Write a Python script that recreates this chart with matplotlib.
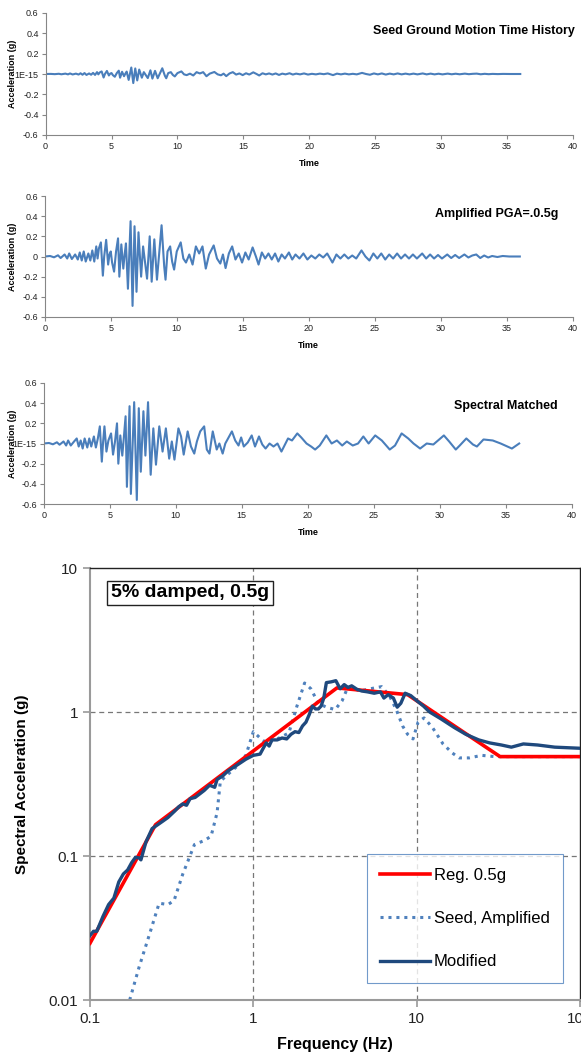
import numpy as np
import matplotlib.pyplot as plt
import matplotlib as mpl

mpl.rcParams['font.family'] = ['Liberation Sans', 'DejaVu Sans']

# ---- time histories (time in s, acceleration in g) ----
amp_t = [0.0, 0.4, 0.7, 1.0, 1.2, 1.5, 1.7, 1.85, 2.05, 2.3, 2.5, 2.65, 2.8, 2.95, 3.1,
         3.3, 3.45, 3.6, 3.75, 3.9, 4.0, 4.1, 4.25, 4.4, 4.5, 4.65, 4.8, 4.9, 5.0, 5.1,
         5.25, 5.4, 5.55, 5.65, 5.8, 5.95, 6.05, 6.15, 6.3, 6.5, 6.65, 6.8, 6.95, 7.1,
         7.3, 7.45, 7.75, 7.95, 8.1, 8.3, 8.5, 8.65, 8.85, 9.05, 9.15, 9.3, 9.5, 9.65,
         9.8, 10.0, 10.3, 10.5, 10.7, 10.95, 11.2, 11.45, 11.7, 11.95, 12.2, 12.45, 12.8,
         13.05, 13.3, 13.5, 13.7, 13.95, 14.2, 14.45, 14.7, 14.95, 15.2, 15.45, 15.75,
         16.0, 16.2, 16.45, 16.7, 16.95, 17.2, 17.45, 17.7, 17.95, 18.2, 18.5, 18.75,
         19.0, 19.3, 19.6, 19.9, 20.2, 20.5, 20.8, 21.1, 21.4, 21.8, 22.1, 22.4, 22.7,
         23.0, 23.3, 23.6, 24.0, 24.3, 24.6, 24.9, 25.2, 25.5, 25.8, 26.1, 26.4, 26.7,
         27.0, 27.3, 27.6, 27.9, 28.2, 28.6, 28.9, 29.2, 29.5, 29.8, 30.1, 30.5, 30.8,
         31.1, 31.4, 31.8, 32.1, 32.4, 32.7, 33.0, 33.3, 33.6, 33.9, 34.3, 34.7, 35.2, 36.0]
amp_a = [0.0, 0.005, -0.008, 0.012, -0.015, 0.02, -0.02, 0.03, -0.025, 0.02, -0.03, 0.04,
         -0.04, 0.05, -0.05, 0.03, -0.04, 0.06, -0.05, 0.1, -0.02, 0.08, 0.14, -0.19, 0.0,
         0.165, -0.08, 0.02, 0.05, -0.06, -0.15, 0.05, 0.18, -0.2, 0.12, -0.12, 0.02, 0.13,
         -0.32, 0.35, -0.49, 0.3, -0.35, 0.24, -0.2, 0.1, -0.22, 0.2, -0.25, 0.17, -0.23,
         0.0, 0.31, -0.1, -0.23, 0.05, 0.1, -0.05, -0.13, 0.05, 0.14, -0.02, -0.06, 0.02,
         -0.08, 0.1, 0.03, 0.1, -0.12, 0.02, 0.11, -0.02, -0.07, 0.02, -0.115, 0.03, 0.1,
         -0.03, 0.03, -0.06, 0.04, -0.03, 0.09, 0.0, -0.08, 0.04, -0.02, 0.03, -0.03, 0.03,
         -0.05, 0.02, -0.02, 0.04, -0.03, 0.02, -0.02, 0.03, -0.03, 0.01, -0.02, 0.02,
         -0.01, 0.03, -0.06, 0.02, -0.02, 0.02, -0.02, 0.01, -0.02, 0.06, 0.0, -0.04, 0.03,
         -0.02, 0.03, -0.03, 0.02, -0.02, 0.03, -0.02, 0.02, -0.02, 0.02, -0.02, 0.03,
         -0.02, 0.02, -0.02, 0.015, -0.02, 0.02, -0.015, 0.015, -0.015, 0.02, -0.01, 0.01,
         0.02, -0.015, 0.01, -0.01, 0.005, -0.005, 0.005, 0.0, 0.0]
amp_factor = 5.5  # seed record scaled up to PGA = 0.5g

match_t = [0.0, 0.4, 0.7, 1.0, 1.2, 1.5, 1.7, 1.85, 2.05, 2.3, 2.5, 2.65, 2.8, 2.95, 3.1,
           3.3, 3.45, 3.6, 3.8, 3.95, 4.1, 4.25, 4.4, 4.5, 4.6, 4.75, 4.9, 5.1, 5.25, 5.4,
           5.55, 5.65, 5.8, 5.95, 6.05, 6.2, 6.3, 6.5, 6.6, 6.85, 7.05, 7.2, 7.35, 7.55,
           7.7, 7.9, 8.1, 8.3, 8.5, 8.75, 9.0, 9.25, 9.5, 9.7, 9.9, 10.2, 10.4, 10.6, 10.9,
           11.15, 11.4, 11.6, 11.85, 12.15, 12.35, 12.55, 12.8, 13.1, 13.3, 13.55, 13.75,
           14.25, 14.5, 14.75, 14.95, 15.15, 15.45, 15.75, 16.0, 16.3, 16.55, 16.8, 17.1,
           17.4, 17.7, 18.0, 18.5, 18.8, 19.2, 19.5, 19.9, 20.25, 20.55, 20.9, 21.4, 21.8,
           22.2, 22.6, 22.95, 23.4, 23.8, 24.2, 24.6, 25.1, 25.6, 26.2, 26.6, 27.1, 27.6,
           28.0, 28.5, 29.0, 29.5, 30.3, 30.7, 31.2, 31.5, 32.0, 32.5, 32.8, 33.3, 34.0,
           34.6, 35.45, 36.0]
match_a = [0.0, 0.005, -0.008, 0.012, -0.012, 0.02, -0.02, 0.03, -0.02, 0.02, 0.05, -0.03,
           0.03, -0.05, 0.05, -0.04, 0.05, -0.03, 0.07, -0.04, 0.05, 0.17, -0.18, 0.02, 0.17,
           -0.08, 0.03, 0.1, -0.11, 0.02, 0.2, -0.2, 0.08, -0.12, 0.03, 0.27, -0.43, 0.37,
           -0.5, 0.41, -0.56, 0.35, -0.28, 0.32, -0.12, 0.41, -0.31, 0.15, -0.21, 0.17,
           -0.08, 0.15, -0.15, 0.02, -0.16, 0.15, 0.07, -0.11, 0.12, -0.03, -0.1, 0.02, 0.12,
           0.17, -0.06, -0.1, 0.12, -0.06, 0.0, -0.1, 0.0, 0.12, 0.03, -0.02, 0.06, -0.03,
           0.01, 0.08, -0.03, 0.07, -0.01, -0.05, 0.0, -0.03, 0.0, -0.08, 0.05, 0.03, 0.1,
           0.06, 0.0, -0.03, -0.06, -0.02, 0.08, 0.0, 0.03, -0.02, 0.02, -0.02, 0.0, 0.07,
           0.0, 0.08, 0.03, -0.06, -0.02, 0.1, 0.05, 0.0, -0.05, 0.0, -0.01, 0.08, 0.02,
           -0.06, -0.02, 0.05, -0.01, -0.03, 0.04, 0.03, 0.0, -0.05, 0.0]

th_yticks = [-0.6, -0.4, -0.2, 0.0, 0.2, 0.4, 0.6]
th_labels_e = ['-0.6', '-0.4', '-0.2', '1E-15', '0.2', '0.4', '0.6']
th_labels_0 = ['-0.6', '-0.4', '-0.2', '0', '0.2', '0.4', '0.6']
th_xticks = [0, 5, 10, 15, 20, 25, 30, 35, 40]

# ---- response spectra (Hz, g) ----
req_f = [0.1, 0.252, 3.25, 8.8, 32.4, 100.0]
req_sa = [0.0248, 0.165, 1.47, 1.32, 0.49, 0.49]

seed_f = [0.175, 0.20, 0.23, 0.265, 0.30, 0.327, 0.37, 0.436, 0.50, 0.551, 0.60, 0.628,
          0.70, 0.795, 0.90, 1.0, 1.1, 1.2, 1.4, 1.65, 1.85, 2.06, 2.25, 2.5, 2.8, 3.17,
          3.5, 3.8, 4.5, 5.2, 6.1, 6.8, 7.5, 8.2, 8.8, 9.5, 10.2, 11.1, 12.5, 14.5, 16.5,
          18.2, 21.0, 25.0, 30.0, 40.0, 60.0, 100.0]
seed_sa = [0.01, 0.017, 0.028, 0.047, 0.046, 0.049, 0.075, 0.12, 0.128, 0.137, 0.2, 0.33,
           0.37, 0.42, 0.5, 0.73, 0.66, 0.61, 0.65, 0.715, 1.1, 1.59, 1.45, 1.15, 1.08, 1.04,
           1.2, 1.5, 1.4, 1.45, 1.5, 1.3, 1.04, 0.8, 0.70, 0.65, 0.85, 0.91, 0.78, 0.6, 0.52,
           0.48, 0.48, 0.5, 0.49, 0.49, 0.49, 0.49]

mod_f = [0.1, 0.105, 0.11, 0.12, 0.13, 0.14, 0.15, 0.16, 0.17, 0.18, 0.19, 0.2, 0.205,
         0.22, 0.24, 0.26, 0.28, 0.3, 0.33, 0.35, 0.37, 0.39, 0.41, 0.44, 0.47, 0.5, 0.54,
         0.58, 0.6, 0.65, 0.7, 0.8, 0.9, 1.0, 1.1, 1.15, 1.2, 1.25, 1.3, 1.4, 1.5, 1.6,
         1.7, 1.8, 1.9, 2.0, 2.1, 2.2, 2.3, 2.4, 2.5, 2.6, 2.7, 2.8, 3.0, 3.2, 3.4, 3.6,
         3.8, 4.0, 4.3, 4.6, 5.0, 5.5, 6.0, 6.3, 6.7, 7.2, 7.6, 8.0, 8.5, 9.2, 10.0, 11.0,
         12.0, 14.0, 17.0, 20.0, 24.0, 28.0, 33.0, 38.0, 45.0, 55.0, 70.0, 100.0]
mod_sa = [0.028, 0.030, 0.030, 0.038, 0.046, 0.051, 0.066, 0.075, 0.080, 0.090, 0.098,
          0.097, 0.094, 0.125, 0.155, 0.165, 0.175, 0.185, 0.205, 0.220, 0.230, 0.225,
          0.250, 0.255, 0.270, 0.285, 0.310, 0.300, 0.340, 0.360, 0.390, 0.430, 0.470,
          0.500, 0.510, 0.560, 0.610, 0.580, 0.640, 0.640, 0.660, 0.650, 0.700, 0.730,
          0.720, 0.800, 0.850, 0.960, 1.100, 1.050, 1.050, 1.100, 1.250, 1.600, 1.620,
          1.650, 1.450, 1.550, 1.480, 1.520, 1.440, 1.400, 1.380, 1.350, 1.380, 1.250,
          1.320, 1.250, 1.080, 1.150, 1.350, 1.300, 1.200, 1.100, 1.000, 0.900, 0.780,
          0.700, 0.640, 0.610, 0.590, 0.570, 0.600, 0.590, 0.570, 0.560]

seed_a = [a / amp_factor for a in amp_a]

W, H = 581, 1053
fig = plt.figure(figsize=(W / 100, H / 100), dpi=100)

def px_axes(x0, y0, x1, y1):
    return fig.add_axes([x0 / W, 1 - y1 / H, (x1 - x0) / W, (y1 - y0) / H])

blue = '#4A7EBB'
gray = '#868686'

panels = [
    (px_axes(45.6, 13, 573, 135), amp_t, seed_a, th_labels_e,
     'Seed Ground Motion Time History', 575, 31),
    (px_axes(44.8, 196, 572.6, 317), amp_t, amp_a, th_labels_0,
     'Amplified PGA=.0.5g', 558, 214),
    (px_axes(43.7, 383, 572, 504), match_t, match_a, th_labels_e,
     'Spectral Matched', 558, 406),
]
for ax, t, a, ylabs, title, tx, ty in panels:
    ax.plot(t, a, color=blue, lw=1.5)
    ax.set_xlim(0, 40)
    ax.set_ylim(-0.6, 0.6)
    ax.set_xticks(th_xticks)
    ax.set_yticks(th_yticks)
    ax.set_yticklabels(ylabs)
    for s in ['top', 'right']:
        ax.spines[s].set_visible(False)
    for s in ['left', 'bottom']:
        ax.spines[s].set_color(gray)
        ax.spines[s].set_linewidth(0.8)
    ax.tick_params(direction='out', length=3, width=0.8, color=gray,
                   labelsize=6.5, pad=2, labelcolor='#222222')
    ax.set_xlabel('Time', fontsize=6.5, fontweight='bold', labelpad=6)
    ax.set_ylabel('Acceleration (g)', fontsize=6.5, fontweight='bold')
    x0 = ax.get_position().x0 * W
    ax.yaxis.set_label_coords((17 - x0) / 527.4, 0.5)
    fig.text(tx / W, 1 - ty / H, title, ha='right', va='center',
             fontsize=9, fontweight='bold')

# ---- spectrum ----
ax = px_axes(90, 568, 580, 1000)
ax.plot(req_f, req_sa, color='#FF0000', lw=2.6, label='Reg. 0.5g', zorder=3)
ax.plot(seed_f, seed_sa, color='#4F81BD', lw=2.2, ls=(0, (1, 1.6)),
        label='Seed, Amplified', zorder=2)
ax.plot(mod_f, mod_sa, color='#1F497D', lw=2.4, label='Modified', zorder=4)
ax.set_xscale('log')
ax.set_yscale('log')
ax.set_xlim(0.1, 100)
ax.set_ylim(0.01, 10)
ax.set_xticks([0.1, 1, 10, 100])
ax.set_xticklabels(['0.1', '1', '10', '100'])
ax.set_yticks([0.01, 0.1, 1, 10])
ax.set_yticklabels(['0.01', '0.1', '1', '10'])
ax.minorticks_off()
for v in [1, 10]:
    ax.axvline(v, color='#777777', lw=0.9, ls=(0, (4, 3)), zorder=1)
for v in [0.1, 1]:
    ax.axhline(v, color='#777777', lw=0.9, ls=(0, (4, 3)), zorder=1)
for s in ['top', 'right']:
    ax.spines[s].set_color('#222222')
    ax.spines[s].set_linewidth(1.0)
for s in ['left', 'bottom']:
    ax.spines[s].set_color('#9A9A9A')
    ax.spines[s].set_linewidth(1.5)
ax.tick_params(direction='out', length=5, width=1.2, color='#9A9A9A',
               labelsize=11, labelcolor='#222222')
ax.set_xlabel('Frequency (Hz)', fontsize=11.5, fontweight='bold', labelpad=8)
ax.set_ylabel('Spectral Acceleration (g)', fontsize=11, fontweight='bold', labelpad=14)
ax.text(0.042, 0.962, '5% damped, 0.5g', transform=ax.transAxes, ha='left', va='top',
        fontsize=14, fontweight='bold',
        bbox=dict(boxstyle='square,pad=0.2', fc='white', ec='#222222', lw=1.0))
leg = ax.legend(loc='lower right', bbox_to_anchor=(0.965, 0.04), fontsize=12,
                frameon=True, fancybox=False, handlelength=3.0, handletextpad=0.2,
                labelspacing=1.7, borderpad=0.8, borderaxespad=0)
leg.get_frame().set_edgecolor('#4F81BD')
leg.get_frame().set_linewidth(0.8)

fig.savefig('out.png', dpi=100)
